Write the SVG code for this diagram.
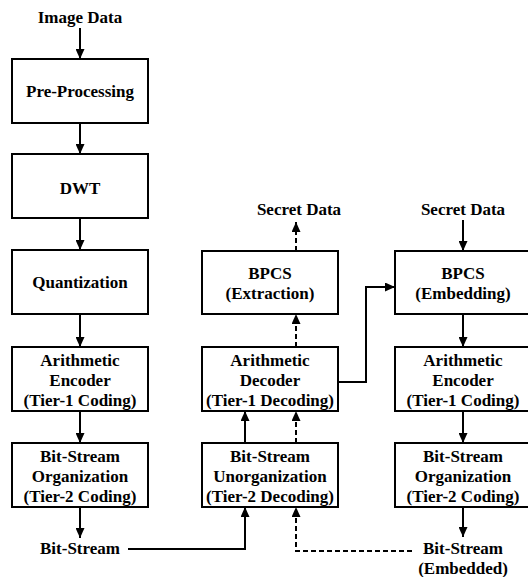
<svg xmlns="http://www.w3.org/2000/svg" width="528" height="577" viewBox="0 0 528 577">
<defs>
<marker id="ah" markerUnits="userSpaceOnUse" markerWidth="11" markerHeight="9" refX="10" refY="4.5" orient="auto">
<path d="M0,0 L10,4.5 L0,9 z" fill="#000"/>
</marker>
<style>
.box{fill:#fff;stroke:#000;stroke-width:2}
text{font-family:"Liberation Serif","Times New Roman",serif;font-weight:bold;font-size:17px;text-anchor:middle;fill:#000}
.ln{fill:none;stroke:#000;stroke-width:2}
.dl{fill:none;stroke:#000;stroke-width:2;stroke-dasharray:5,3}
</style>
</defs>
<rect width="528" height="577" fill="#fff"/>

<g id="labels">
<text x="80" y="23">Image Data</text>
<text x="299" y="215">Secret Data</text>
<text x="463" y="215">Secret Data</text>
<text x="80" y="554">Bit-Stream</text>
<text x="463" y="554">Bit-Stream</text>
<text x="463" y="574">(Embedded)</text>
</g>

<g id="preprocessing"><rect class="box" x="12" y="59" width="136" height="64"/><text x="80" y="97">Pre-Processing</text></g>
<g id="dwt"><rect class="box" x="12" y="154" width="136" height="64"/><text x="80" y="194">DWT</text></g>
<g id="quantization"><rect class="box" x="12" y="250" width="136" height="64"/><text x="80" y="288">Quantization</text></g>
<g id="arith-encoder-1"><rect class="box" x="12" y="347" width="136" height="64"/><text x="80" y="366">Arithmetic</text><text x="80" y="386">Encoder</text><text x="80" y="406">(Tier-1 Coding)</text></g>
<g id="bs-org-1"><rect class="box" x="12" y="443" width="136" height="64"/><text x="80" y="462">Bit-Stream</text><text x="80" y="482">Organization</text><text x="80" y="502">(Tier-2 Coding)</text></g>

<g id="bpcs-extraction"><rect class="box" x="202" y="251" width="136" height="63"/><text x="270" y="279">BPCS</text><text x="270" y="299">(Extraction)</text></g>
<g id="arith-decoder"><rect class="box" x="202" y="347" width="136" height="64"/><text x="270" y="366">Arithmetic</text><text x="270" y="386">Decoder</text><text x="270" y="406">(Tier-1 Decoding)</text></g>
<g id="bs-unorg"><rect class="box" x="202" y="443" width="136" height="64"/><text x="270" y="462">Bit-Stream</text><text x="270" y="482">Unorganization</text><text x="270" y="502">(Tier-2 Decoding)</text></g>

<g id="bpcs-embedding"><rect class="box" x="395" y="251" width="136" height="63"/><text x="463" y="279">BPCS</text><text x="463" y="299">(Embedding)</text></g>
<g id="arith-encoder-2"><rect class="box" x="395" y="347" width="136" height="64"/><text x="463" y="366">Arithmetic</text><text x="463" y="386">Encoder</text><text x="463" y="406">(Tier-1 Coding)</text></g>
<g id="bs-org-2"><rect class="box" x="395" y="443" width="136" height="64"/><text x="463" y="462">Bit-Stream</text><text x="463" y="482">Organization</text><text x="463" y="502">(Tier-2 Coding)</text></g>

<g id="connectors">
<path class="ln" d="M80,28 V59" marker-end="url(#ah)"/>
<path class="ln" d="M80,123 V154" marker-end="url(#ah)"/>
<path class="ln" d="M80,218 V250" marker-end="url(#ah)"/>
<path class="ln" d="M80,314 V347" marker-end="url(#ah)"/>
<path class="ln" d="M80,411 V443" marker-end="url(#ah)"/>
<path class="ln" d="M80,507 V538" marker-end="url(#ah)"/>
<path class="ln" d="M128,549 H245 V507" marker-end="url(#ah)"/>
<path class="ln" d="M245,443 V411" marker-end="url(#ah)"/>
<path class="dl" d="M296,443 V411" marker-end="url(#ah)"/>
<path class="dl" d="M296,347 V314" marker-end="url(#ah)"/>
<path class="dl" d="M296,251 V222" marker-end="url(#ah)"/>
<path class="dl" d="M412,551 H296 V507" marker-end="url(#ah)"/>
<path class="ln" d="M338,382 H366 V287 H395" marker-end="url(#ah)"/>
<path class="ln" d="M463,220 V251" marker-end="url(#ah)"/>
<path class="ln" d="M463,314 V347" marker-end="url(#ah)"/>
<path class="ln" d="M463,411 V443" marker-end="url(#ah)"/>
<path class="ln" d="M463,507 V537" marker-end="url(#ah)"/>
</g>
</svg>
